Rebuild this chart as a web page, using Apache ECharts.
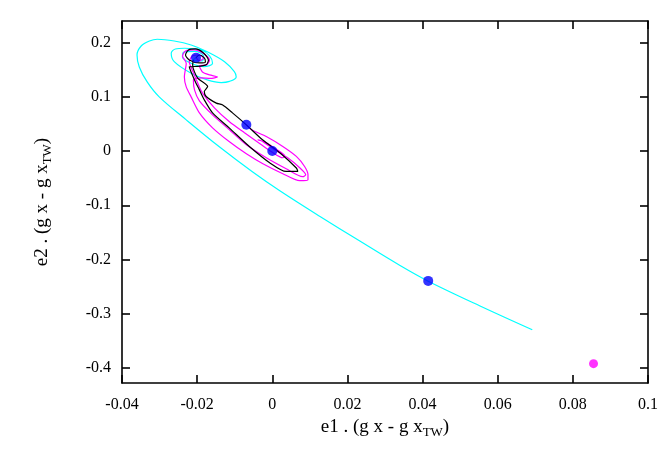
<!DOCTYPE html>
<html>
<head>
<meta charset="utf-8">
<script src="https://cdn.jsdelivr.net/npm/echarts@6/dist/echarts.min.js"></script>
<style>
html,body{margin:0;padding:0;background:#fff;}
#chart{width:669px;height:467px;}
</style>
</head>
<body>
<div id="chart"></div>
<script>
// Axis ticks
const xTicks = [-0.04, -0.02, 0, 0.02, 0.04, 0.06, 0.08, 0.1];
const yTicks = [-0.4, -0.3, -0.2, -0.1, 0, 0.1, 0.2];

// Cyan trajectory [e1, e2]
const cyanPath = [
  [0.0692,-0.3297],[0.0553,-0.2858],[0.0415,-0.2401],[0.0340,-0.2112],[0.0233,-0.1661],
  [0.0126,-0.1201],[0.0020,-0.0731],[-0.0053,-0.0381],[-0.0141,0.0079],[-0.0229,0.0576],
  [-0.0301,0.1000],[-0.0333,0.1276],[-0.0354,0.1552],[-0.0360,0.1773],[-0.0349,0.1939],
  [-0.0327,0.2031],[-0.0306,0.2063],[-0.0261,0.2031],[-0.0216,0.1958],[-0.0173,0.1834],
  [-0.0127,0.1650],[-0.0101,0.1466],[-0.0096,0.1368],[-0.0114,0.1285],[-0.0136,0.1263],
  [-0.0173,0.1313],[-0.0216,0.1436],[-0.0261,0.1650],[-0.0269,0.1805],[-0.0258,0.1884],
  [-0.0234,0.1897],[-0.0189,0.1866],[-0.0167,0.1755],[-0.0159,0.1621],[-0.0181,0.1558],
  [-0.0216,0.1621],[-0.0239,0.1737],[-0.0237,0.1820],[-0.0207,0.1838],[-0.0183,0.1755],
  [-0.0186,0.1663],[-0.0210,0.1681],[-0.0203,0.1724]
];

// Black trajectory [e1, e2]
const blackPath = [
  [-0.0203,0.1724],[-0.0194,0.1773],[-0.0181,0.1718],[-0.0178,0.1645],[-0.0194,0.1626],
  [-0.0221,0.1681],[-0.0231,0.1773],[-0.0223,0.1866],[-0.0205,0.1884],[-0.0183,0.1810],
  [-0.0170,0.1681],[-0.0175,0.1599],[-0.0199,0.1562],[-0.0221,0.1558],[-0.0207,0.1313],
  [-0.0194,0.1129],[-0.0181,0.0945],[-0.0159,0.0705],[-0.0114,0.0424],[-0.0061,0.0085],
  [-0.0007,-0.0215],[0.0037,-0.0376],[0.0068,-0.0376],[0.0064,-0.0313],[0.0020,-0.0031],
  [-0.0026,0.0208],[-0.0069,0.0484],[-0.0106,0.0705],[-0.0133,0.0853],[-0.0149,0.0884],
  [-0.0176,0.1006],[-0.0181,0.1098],[-0.0172,0.1190],[-0.0199,0.1350],[-0.0212,0.1589],
  [-0.0210,0.1681]
];

// Magenta trajectory [e1, e2]
const magentaPath = [
  [-0.0069,0.0484],[-0.0055,0.0392],[-0.0016,0.0269],[0.0028,0.0085],[0.0064,-0.0099],
  [0.0086,-0.0284],[0.0095,-0.0436],[0.0095,-0.0529],[0.0073,-0.0547],[0.0028,-0.0418],
  [-0.0025,-0.0234],[-0.0069,-0.0050],[-0.0114,0.0171],[-0.0159,0.0429],[-0.0194,0.0705],
  [-0.0216,0.1000],[-0.0229,0.1184],[-0.0234,0.1368],[-0.0229,0.1621],[-0.0239,0.1755],
  [-0.0231,0.1847],[-0.0207,0.1866],[-0.0181,0.1792],[-0.0167,0.1681],[-0.0175,0.1589],
  [-0.0194,0.1571],[-0.0186,0.1460],[-0.0167,0.1405],[-0.0146,0.1368],[-0.0165,0.1341],
  [-0.0189,0.1350],[-0.0210,0.1313],[-0.0207,0.1129],[-0.0194,0.0926],[-0.0159,0.0668],
  [-0.0114,0.0392],[-0.0069,0.0116],[-0.0016,-0.0123],[0.0037,-0.0326],[0.0081,-0.0473],
  [0.0089,-0.0436],[0.0073,-0.0308],[0.0041,-0.0123],[0.0006,0.0024],[-0.0029,0.0190],
  [-0.0039,0.0208],[-0.0021,0.0171],[0.0009,0.0042],[0.0033,-0.0087],[0.0028,-0.0123],
  [-0.0002,-0.0013],[-0.0029,0.0116],[-0.0074,0.0337],[-0.0114,0.0540],[-0.0154,0.0797],
  [-0.0186,0.1074],[-0.0202,0.1313],[-0.0213,0.1497],[-0.0221,0.1645],[-0.0213,0.1755],
  [-0.0194,0.1773],[-0.0183,0.1718],[-0.0194,0.1663],[-0.0203,0.1724]
];

// Points
const bluePoints = [[-0.0203,0.1724],[-0.0069,0.0484],[0.0,0.0],[0.0415,-0.2396]];
const magentaPoints = [[0.0855,-0.3923]];

const FONT = '"Liberation Serif", "DejaVu Serif", serif';
const fmt = v => String(parseFloat(Number(v).toFixed(4)));

const rich = {
  n: {fontFamily: FONT, fontSize: 19, color: '#000'},
  s: {fontFamily: FONT, fontSize: 13, color: '#000', padding: [11, 0, 0, 0]}
};

const lineAxis = {show: true, onZero: false, lineStyle: {color: '#000', width: 1.6}};
const tickIn = {show: true, inside: true, length: 8, lineStyle: {color: '#000', width: 1.6}};

const chart = echarts.init(document.getElementById('chart'), null, {renderer: 'canvas'});
chart.setOption({
  animation: false,
  backgroundColor: '#fff',
  grid: {left: 122, right: 21, top: 21, bottom: 84, containLabel: false},
  xAxis: [
    {
      type: 'value', min: -0.04, max: 0.1, interval: 0.02, position: 'bottom',
      axisLine: lineAxis, axisTick: tickIn, splitLine: {show: false},
      axisLabel: {color: '#000', fontFamily: FONT, fontSize: 16, margin: 14, formatter: fmt},
      name: '{n|e1 . (g x - g x}{s|TW}{n|)}', nameLocation: 'middle', nameGap: 27,
      nameTextStyle: {rich: rich}
    },
    {
      type: 'value', min: -0.04, max: 0.1, interval: 0.02, position: 'top',
      axisLine: lineAxis, axisTick: tickIn, axisLabel: {show: false}, splitLine: {show: false}
    }
  ],
  yAxis: [
    {
      type: 'value', min: -0.428, max: 0.24, position: 'left',
      axisLine: lineAxis,
      axisTick: Object.assign({}, tickIn, {customValues: yTicks}),
      splitLine: {show: false},
      axisLabel: {color: '#000', fontFamily: FONT, fontSize: 16, margin: 11, customValues: yTicks, formatter: fmt},
      name: '{n|e2 . (g x - g x}{s|TW}{n|)}', nameLocation: 'middle', nameGap: 68, nameRotate: 90,
      nameTextStyle: {rich: rich}
    },
    {
      type: 'value', min: -0.428, max: 0.24, position: 'right',
      axisLine: lineAxis,
      axisTick: Object.assign({}, tickIn, {customValues: yTicks}),
      axisLabel: {show: false}, splitLine: {show: false}
    }
  ],
  series: [
    {type: 'line', data: cyanPath, showSymbol: false, symbol: 'none', smooth: 0.35, lineStyle: {color: '#00ffff', width: 1.2}, clip: true, z: 2},
    {type: 'line', data: magentaPath, showSymbol: false, symbol: 'none', smooth: 0.25, lineStyle: {color: '#ff00ff', width: 1.2}, clip: true, z: 3},
    {type: 'line', data: blackPath, showSymbol: false, symbol: 'none', smooth: 0.25, lineStyle: {color: '#000000', width: 1.2}, clip: true, z: 4},
    {type: 'scatter', data: bluePoints, symbol: 'circle', symbolSize: 10, itemStyle: {color: '#0000ff'}, z: 5},
    {type: 'scatter', data: magentaPoints, symbol: 'circle', symbolSize: 9, itemStyle: {color: '#ff00ff'}, z: 5}
  ]
});
</script>
</body>
</html>
